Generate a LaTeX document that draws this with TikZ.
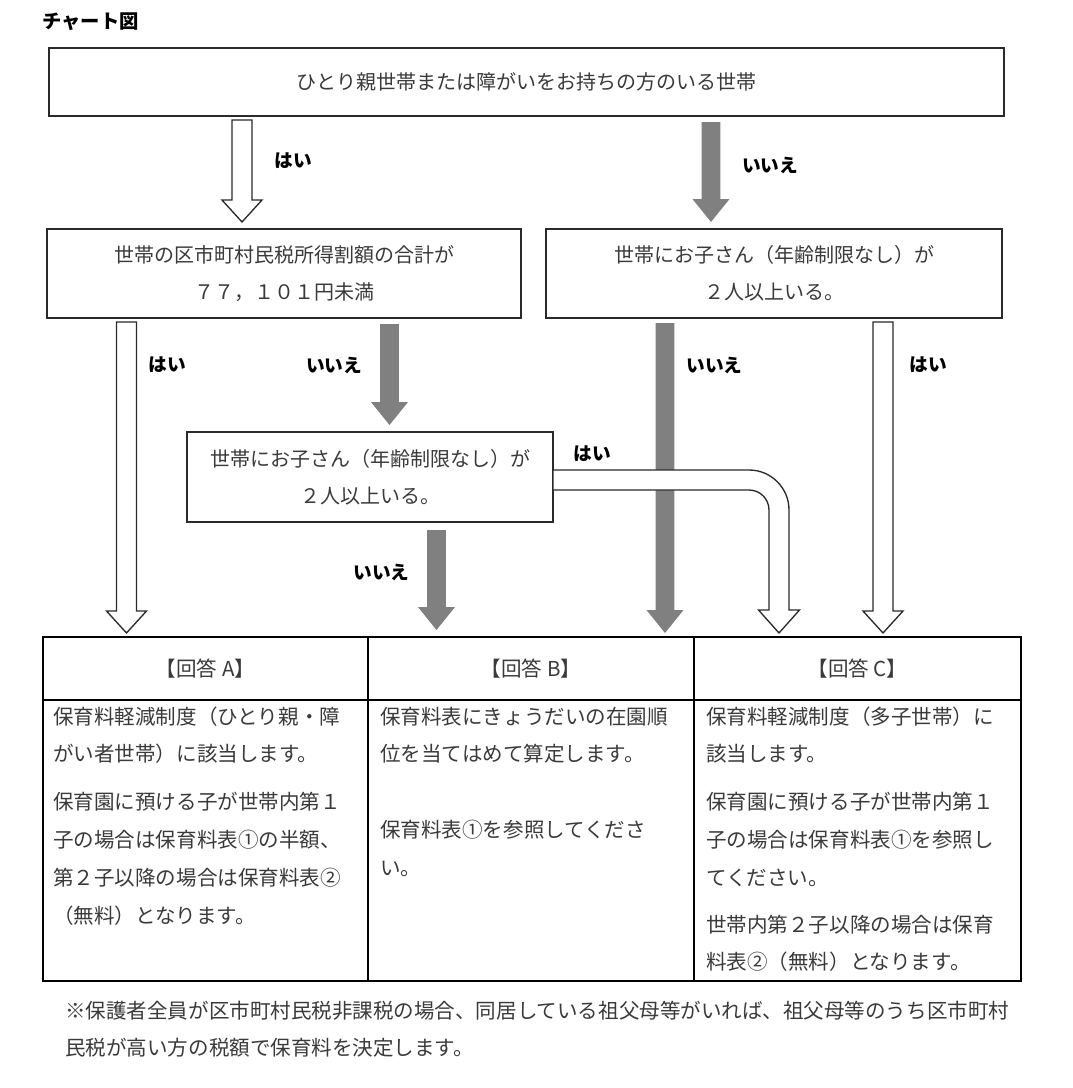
\documentclass[tikz,border=0pt]{standalone}
\usepackage{fontspec}
\setmainfont{Noto Sans CJK JP}
\usetikzlibrary{calc}
\definecolor{txt}{HTML}{3A3A3A}
\definecolor{arrgray}{HTML}{808080}
\definecolor{edge}{HTML}{2A2A2A}
\tikzset{
  box/.style={draw=edge, line width=1.4pt, rectangle, inner sep=0pt, align=center, text=txt,
    font=\fontsize{15pt}{27.75pt}\selectfont},
  cell/.style={draw=black, line width=1.6pt, rectangle, inner sep=0pt, text=txt,
    font=\fontsize{15.4pt}{18pt}\selectfont},
  ln/.style={inner sep=0pt, anchor=west, text=txt, text height=13.55pt, text depth=1.85pt,
    font=\fontsize{15.4pt}{18pt}\selectfont},
  lbl/.style={inner sep=0pt, text=black, font=\bfseries\fontsize{14pt}{16pt}\selectfont},
  whitearrow/.style={fill=white, draw=edge, line width=1pt, line join=miter},
  grayarrow/.style={fill=arrgray},
}
% style, from, to, shaft half width, head half width, head length
\newcommand\blkarrow[6]{\path[#1] let \p1=(#2), \p2=(#3) in
  (\x1-#4,\y1) -- (\x1+#4,\y1) -- (\x1+#4,\y2+#6) -- (\x1+#5,\y2+#6) -- (\x1,\y2)
  -- (\x1-#5,\y2+#6) -- (\x1-#4,\y2+#6) -- cycle;}
\begin{document}
\begin{tikzpicture}[x=0.75pt,y=-0.75pt]
\useasboundingbox[fill=white] (0,0) rectangle (1072,1088);

% title
\node[lbl, anchor=west, font=\bfseries\fontsize{14.5pt}{16pt}\selectfont] (title) at (42,22) {チャート図};

% question boxes
\node[box, minimum width=716.25pt, minimum height=51pt] (q1) at (526.5,82)
  {ひとり親世帯または障がいをお持ちの方のいる世帯};
\node[box, minimum width=355.5pt, minimum height=66.75pt] (q2) at (284,273.5)
  {世帯の区市町村民税所得割額の合計が\\７７，１０１円未満};
\node[box, minimum width=342pt, minimum height=66.75pt] (q3) at (774,273.5)
  {世帯にお子さん（年齢制限なし）が\\２人以上いる。};
\node[box, minimum width=274.5pt, minimum height=67.5pt] (q4) at (370,477)
  {世帯にお子さん（年齢制限なし）が\\２人以上いる。};

% arrow end points
\coordinate (a1s) at (242,120);   \coordinate (a1e) at (242,222);
\coordinate (a2s) at (711,122);   \coordinate (a2e) at (711,222);
\coordinate (a3s) at (126.5,322); \coordinate (a3e) at (126.5,633);
\coordinate (a4s) at (389.5,324); \coordinate (a4e) at (389.5,425);
\coordinate (a5s) at (436.5,530); \coordinate (a5e) at (436.5,630);
\coordinate (a6s) at (665,323);   \coordinate (a6e) at (665,633);
\coordinate (a8s) at (883,322);   \coordinate (a8e) at (883,633);

% gray (no) arrows
\blkarrow{grayarrow}{a2s}{a2e}{7.1pt}{13.9pt}{17.25pt}
\blkarrow{grayarrow}{a4s}{a4e}{7.1pt}{13.9pt}{17.25pt}
\blkarrow{grayarrow}{a5s}{a5e}{7.1pt}{13.9pt}{17.25pt}
\blkarrow{grayarrow}{a6s}{a6e}{7.1pt}{13.9pt}{17.25pt}

% white (yes) arrows
\blkarrow{whitearrow}{a1s}{a1e}{7.5pt}{15pt}{16.5pt}
\blkarrow{whitearrow}{a3s}{a3e}{7.5pt}{15pt}{16.5pt}
\blkarrow{whitearrow}{a8s}{a8e}{7.5pt}{15pt}{16.5pt}
% bent arrow from q4 to answer C
\path[whitearrow] (553,470) -- (749,470) .. controls (771.1,470) and (789,487.9) .. (789,510)
  -- (789,610) -- (799.5,610) -- (779,633) -- (758.5,610) -- (769,610) -- (769,510)
  .. controls (769,498.95) and (760.05,490) .. (749,490) -- (553,490) -- cycle;

% labels
\node[lbl] (l1) at (293.5,161) {はい};
\node[lbl] (l2) at (770,165) {いいえ};
\node[lbl] (l3) at (167.5,365) {はい};
\node[lbl] (l4) at (334,365) {いいえ};
\node[lbl] (l5) at (714.5,365) {いいえ};
\node[lbl] (l6) at (928.5,365) {はい};
\node[lbl] (l7) at (592,454) {はい};
\node[lbl] (l8) at (381.5,572) {いいえ};

% answer table
\node[cell, minimum width=243.75pt, minimum height=47.25pt] (hA) at (205.5,668.5) {【回答 A】};
\node[cell, minimum width=244.5pt, minimum height=47.25pt] (hB) at (531,668.5) {【回答 B】};
\node[cell, minimum width=245.25pt, minimum height=47.25pt] (hC) at (857.5,668.5) {【回答 C】};
\node[cell, minimum width=243.75pt, minimum height=210.75pt] (bA) at (205.5,840.5) {};
\node[cell, minimum width=244.5pt, minimum height=210.75pt] (bB) at (531,840.5) {};
\node[cell, minimum width=245.25pt, minimum height=210.75pt] (bC) at (857.5,840.5) {};

% answer A text
\node[ln] (ta1) at (53,717) {保育料軽減制度（ひとり親・障};
\node[ln] (ta2) at (53,754) {がい者世帯）に該当します。};
\node[ln] (ta3) at (53,802) {保育園に預ける子が世帯内第１};
\node[ln] (ta4) at (53,840) {子の場合は保育料表①の半額、};
\node[ln] (ta5) at (53,878) {第２子以降の場合は保育料表②};
\node[ln] (ta6) at (53,916) {（無料）となります。};
% answer B text
\node[ln] (tb1) at (380,717) {保育料表にきょうだいの在園順};
\node[ln] (tb2) at (380,754) {位を当てはめて算定します。};
\node[ln] (tb3) at (380,830) {保育料表①を参照してくださ};
\node[ln] (tb4) at (380,868) {い。};
% answer C text
\node[ln] (tc1) at (706,717) {保育料軽減制度（多子世帯）に};
\node[ln] (tc2) at (706,754) {該当します。};
\node[ln] (tc3) at (706,802) {保育園に預ける子が世帯内第１};
\node[ln] (tc4) at (706,840) {子の場合は保育料表①を参照し};
\node[ln] (tc5) at (706,878) {てください。};
\node[ln] (tc6) at (706,925) {世帯内第２子以降の場合は保育};
\node[ln] (tc7) at (706,962) {料表②（無料）となります。};

% footnote
\node[ln] (f1) at (65,1011) {※保護者全員が区市町村民税非課税の場合、同居している祖父母等がいれば、祖父母等のうち区市町村};
\node[ln] (f2) at (65,1048) {民税が高い方の税額で保育料を決定します。};
\end{tikzpicture}
\end{document}
